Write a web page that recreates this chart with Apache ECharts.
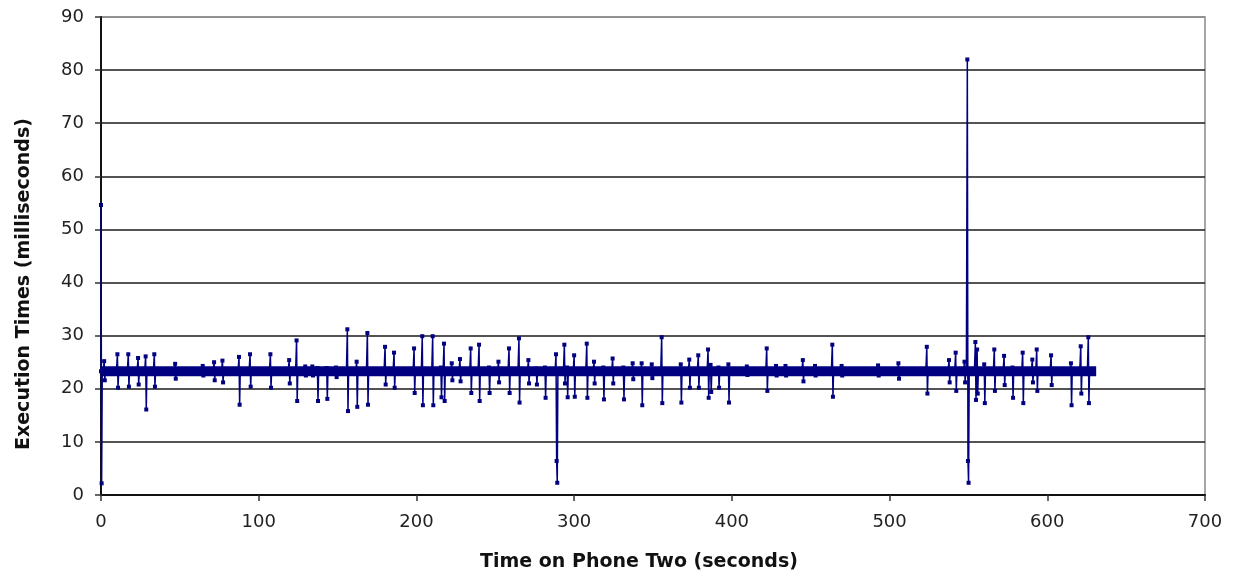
<!DOCTYPE html>
<html>
<head>
<meta charset="utf-8">
<script src="https://cdn.jsdelivr.net/npm/echarts@6/dist/echarts.min.js"></script>
<style>
html,body{margin:0;padding:0;background:#fff;}
#chart{width:1233px;height:580px;}
</style>
</head>
<body>
<div id="chart"></div>
<script>
// ---- data ----
const xTicks = [0, 100, 200, 300, 400, 500, 600, 700];
const yTicks = [0, 10, 20, 30, 40, 50, 60, 70, 80, 90];
const xTitle = 'Time on Phone Two (seconds)';
const yTitle = 'Execution Times (milliseconds)';

// dense steady-state band of samples (ms) from start to end of run
const bandTimes = [0, 631];
const bandLevels = [23.3, 23.3];

// outlier events: time (s) and the successive sample values (ms) of each excursion
const spikeTimes = [
  0, 2, 10.4, 17.3, 23.5, 28.3, 33.8, 47, 64.5, 71.7, 77, 87.5, 94.5, 107.4, 119.3,
  124, 129.5, 134, 137.2, 143.1, 149, 156.2, 162.1, 168.9, 180.1, 185.8, 198.5,
  203.7, 210.3, 215.5, 217.5, 222.4, 227.6, 234.4, 239.7, 246, 252, 258.7, 265,
  271, 276, 281.5, 288.5, 293.8, 295.5, 300, 308, 312.6, 318.5, 324.4, 331.2,
  337.1, 342.8, 349.2, 355.5, 367.6, 373, 378.7, 384.9, 386.5, 391.5, 397.8,
  409.5, 422.1, 428, 434, 445, 452.7, 463.7, 469.6, 492.7, 505.6, 523.6, 537.7,
  541.9, 547.5, 549.3, 554.4, 555.5, 560, 566.4, 572.6, 577.9, 584.4, 590.5,
  593.3, 602.4, 615, 621.2, 626.0
];
const spikeValues = [
  [54.6, 2.2], [25.2, 21.6], [26.5, 20.2], [26.5, 20.4], [25.8, 20.8], [26.1, 16.1],
  [26.5, 20.4], [24.7, 21.9], [24.3, 22.5], [25.0, 21.6], [25.3, 21.2], [26.0, 17.0],
  [26.5, 20.4], [26.5, 20.2], [25.4, 21.0],
  [29.1, 17.7], [24.2, 22.5], [24.2, 22.5], [23.9, 17.7], [23.9, 18.1], [24.0, 22.2],
  [31.2, 15.8], [25.1, 16.6], [30.5, 17.0], [27.9, 20.8], [26.8, 20.2], [27.6, 19.2],
  [29.9, 16.9], [29.9, 16.9], [24.0, 18.4], [28.5, 17.7], [24.8, 21.6], [25.6, 21.4],
  [27.6, 19.2], [28.3, 17.7], [24.0, 19.2], [25.1, 21.2], [27.6, 19.2], [29.5, 17.4],
  [25.4, 21.0], [23.8, 20.8], [24.0, 18.3], [26.5, 6.4, 2.3], [28.3, 21.0], [24.0, 18.4],
  [26.3, 18.5], [28.5, 18.3], [25.1, 21.0], [24.0, 18.0], [25.7, 21.0], [24.0, 18.0],
  [24.8, 21.8], [24.8, 16.9], [24.6, 22.0], [29.7, 17.3], [24.6, 17.4], [25.5, 20.2],
  [26.3, 20.2], [27.4, 18.3], [24.5, 19.4], [24.0, 20.2], [24.6, 17.4],
  [24.2, 22.6], [27.6, 19.6], [24.3, 22.5], [24.3, 22.5], [25.4, 21.4], [24.3, 22.5],
  [28.3, 18.5], [24.3, 22.5], [24.4, 22.5], [24.8, 21.9], [27.9, 19.1], [25.4, 21.2],
  [26.8, 19.6], [25.1, 21.2], [82.0, 6.4, 2.3], [28.8, 17.9], [27.4, 19.1], [24.6, 17.3],
  [27.4, 19.6], [26.2, 20.7], [24.0, 18.3], [26.8, 17.3], [25.5, 21.2],
  [27.4, 19.6], [26.3, 20.7], [24.8, 16.9], [28.0, 19.1], [29.7, 17.3]
];

// ---- build series data from the arrays ----
const baseLevel = bandLevels[0];
const bandData = bandTimes.map((t, i) => [t, bandLevels[i]]);
const spikeData = [];
spikeTimes.forEach((t, i) => {
  const vals = spikeValues[i];
  spikeData.push([Math.max(0, t - 0.6), baseLevel]);
  vals.forEach((v, j) => spikeData.push([t + j * 0.4, v]));
  const tEnd = t + vals.length * 0.4;
  spikeData.push([tEnd, baseLevel]);
  spikeData.push([tEnd, '-']);
});

const navy = '#000080';
const chart = echarts.init(document.getElementById('chart'), null, {renderer: 'canvas'});
const splitColors = yTicks.map((v, i) => i === yTicks.length - 1 ? '#8a8a8a' : '#1a1a1a');

chart.setOption({
  animation: false,
  backgroundColor: '#fff',
  grid: {left: 101, right: 28, top: 17, bottom: 85, show: true, borderColor: '#8a8a8a', borderWidth: 1.5, backgroundColor: 'transparent'},
  xAxis: {
    type: 'value', min: xTicks[0], max: xTicks[xTicks.length - 1], interval: 100,
    axisLine: {show: true, onZero: false, lineStyle: {color: '#111', width: 2}},
    axisTick: {show: true, inside: false, length: 6, lineStyle: {color: '#333', width: 1.5}},
    axisLabel: {margin: 18, color: '#222', fontFamily: 'DejaVu Sans', fontSize: 18},
    splitLine: {show: false}
  },
  yAxis: {
    type: 'value', min: yTicks[0], max: yTicks[yTicks.length - 1], interval: 10,
    axisLine: {show: true, lineStyle: {color: '#111', width: 2}},
    axisTick: {show: true, inside: false, length: 6, lineStyle: {color: '#333', width: 1.5}},
    axisLabel: {margin: 17, color: '#222', fontFamily: 'DejaVu Sans', fontSize: 18},
    splitLine: {show: true, lineStyle: {color: splitColors, width: 1.5}}
  },
  graphic: [
    {type: 'text', left: 'center', x: 0, top: 553, style: {text: xTitle, font: 'bold 19px "DejaVu Sans"', fill: '#111'}, left: 480},
    {type: 'text', x: 15, y: 450, rotation: Math.PI / 2, style: {text: yTitle, font: 'bold 19px "DejaVu Sans"', fill: '#111', textAlign: 'left', textVerticalAlign: 'top'}}
  ],
  series: [
    {
      type: 'line', data: bandData, showSymbol: false, silent: true,
      lineStyle: {color: navy, width: 10}, z: 2
    },
    {
      type: 'line', data: spikeData, connectNulls: false, silent: true,
      symbol: 'rect', symbolSize: 4, showSymbol: true,
      itemStyle: {color: navy},
      lineStyle: {color: navy, width: 1.5}, z: 3
    }
  ]
});
</script>
</body>
</html>
